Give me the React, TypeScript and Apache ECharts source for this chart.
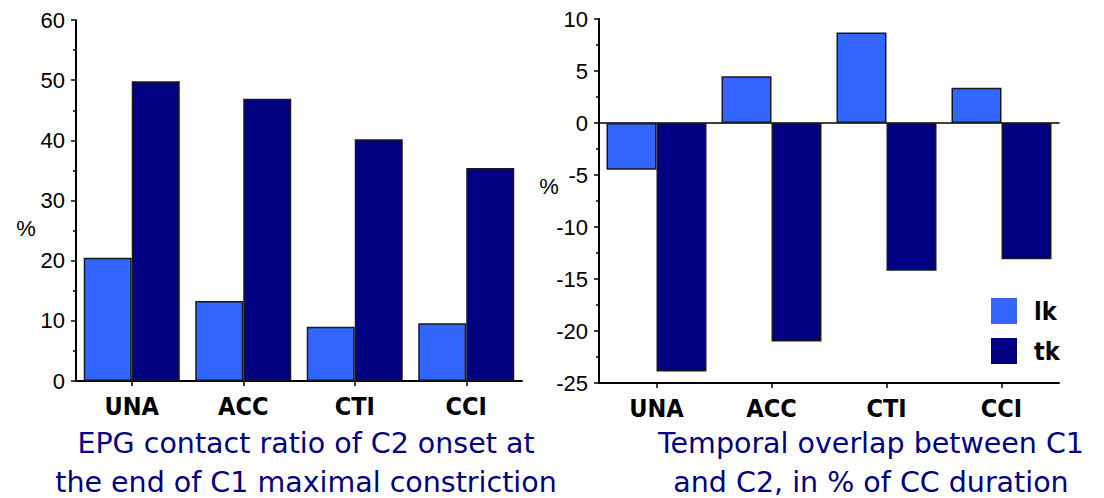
import React, { useEffect, useRef } from "react";
import * as echarts from "echarts";

const categories = ["UNA", "ACC", "CTI", "CCI"];
const seriesNames = ["lk", "tk"];
const contactLk = [20.5, 13.3, 9.0, 9.6];
const contactTk = [49.8, 46.9, 40.2, 35.4];
const overlapLk = [-4.5, 4.5, 8.7, 3.4];
const overlapTk = [-23.9, -21.0, -14.2, -13.1];
const leftTitle = ["EPG contact ratio of C2 onset at", "the end of C1 maximal constriction"];
const rightTitle = ["Temporal overlap between C1", "and C2, in % of CC duration"];

const LK_COLOR = "#3366ff";
const TK_COLOR = "#000080";
const TITLE_FONT = '"DejaVu Sans", sans-serif';
const CAT_FONT = '"DejaVu Sans Condensed", "DejaVu Sans", sans-serif';
const NUM_FONT = '"Liberation Sans", Arial, sans-serif';

export default function App() {
  const ref = useRef<HTMLDivElement>(null);
  useEffect(() => {
    document.body.style.margin = "0";
    const chart = echarts.init(ref.current!, null, { renderer: "svg" });
    const axisLine = { show: true, lineStyle: { color: "#000", width: 2 } };
    const catAxis = (gridIndex: number, margin: number) => ({
      type: "category",
      gridIndex,
      data: categories,
      axisLine: { ...axisLine, onZero: false },
      axisTick: { show: true, alignWithLabel: true, length: 5, lineStyle: { color: "#000", width: 1.5 } },
      axisLabel: {
        color: "#000",
        fontFamily: CAT_FONT,
        fontWeight: "bold",
        fontSize: 25,
        margin,
      },
    });
    const valAxis = (gridIndex: number, min: number, max: number, interval: number) => ({
      type: "value",
      gridIndex,
      min,
      max,
      interval,
      axisLine,
      axisTick: { show: true, length: 5, lineStyle: { color: "#000", width: 1.5 } },
      minorTick: { show: true, splitNumber: 2, length: 3, lineStyle: { color: "#000", width: 1.5 } },
      splitLine: { show: false },
      axisLabel: { color: "#000", fontFamily: NUM_FONT, fontSize: 22, margin: 11 },
    });
    const bar = (name: string, data: number[], color: string, idx: number, w: number) => ({
      type: "bar",
      name,
      data,
      xAxisIndex: idx === 0 ? 0 : 1,
      yAxisIndex: idx,
      barWidth: w,
      barGap: "0%",
      itemStyle: { color, borderColor: "#1a1a1a", borderWidth: 1.5 },
      z: 3,
    });
    const titleText = (lines: string[], cx: number) =>
      lines.map((t, i) => ({
        type: "text",
        x: cx,
        y: 443 + i * 39,
        style: {
          text: t,
          fill: "#000080",
          font: `28.5px ${TITLE_FONT}`,
          textAlign: "center",
          textVerticalAlign: "middle",
        },
      }));
    chart.setOption({
      animation: false,
      backgroundColor: "#fff",
      grid: [
        { left: 76, top: 20, width: 446, height: 361 },
        { left: 599, top: 19, width: 460, height: 364 },
      ],
      xAxis: [
        catAxis(0, 13),
        catAxis(1, 13),
        {
          type: "category",
          gridIndex: 1,
          data: categories,
          axisLine: { show: true, onZero: true, lineStyle: { color: "#000", width: 1.5 } },
          axisTick: { show: false },
          axisLabel: { show: false },
          z: 1,
        },
      ],
      yAxis: [valAxis(0, 0, 60, 10), valAxis(1, -25, 10, 5)],
      legend: {
        data: seriesNames,
        orient: "vertical",
        left: 986,
        top: 293,
        itemWidth: 26,
        itemHeight: 26,
        itemGap: 14,
        icon: "rect",
        itemStyle: { borderWidth: 0 },
        textStyle: {
          color: "#000",
          fontSize: 25,
          fontFamily: CAT_FONT,
          fontWeight: "bold",
          padding: [0, 0, 0, 12],
        },
      },
      series: [
        bar("lk", contactLk, LK_COLOR, 0, 48),
        bar("tk", contactTk, TK_COLOR, 0, 48),
        bar("lk", overlapLk, LK_COLOR, 1, 50),
        bar("tk", overlapTk, TK_COLOR, 1, 50),
      ],
      graphic: [
        {
          type: "text",
          x: 26,
          y: 228,
          style: { text: "%", fill: "#000", font: `22px ${NUM_FONT}`, textAlign: "center", textVerticalAlign: "middle" },
        },
        {
          type: "text",
          x: 549,
          y: 186,
          style: { text: "%", fill: "#000", font: `22px ${NUM_FONT}`, textAlign: "center", textVerticalAlign: "middle" },
        },
        ...titleText(leftTitle, 306),
        ...titleText(rightTitle, 871),
      ],
    });
    return () => chart.dispose();
  }, []);
  return <div ref={ref} style={{ width: 1104, height: 498 }} />;
}
